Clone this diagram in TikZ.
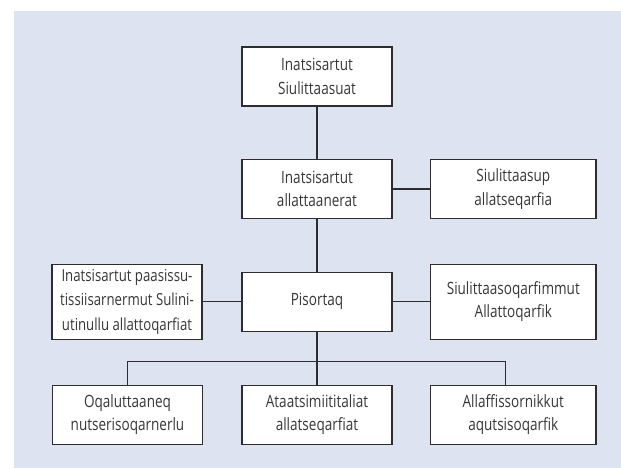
\documentclass[tikz,border=0pt]{standalone}
\usepackage{fontspec}
\setmainfont{Open Sans}[FakeStretch=0.8]
\definecolor{bgc}{RGB}{221,227,240}
\definecolor{txt}{RGB}{55,55,55}
\definecolor{edge}{RGB}{45,45,45}
\begin{document}
\begin{tikzpicture}[x=0.75pt,y=-0.75pt,
  box/.style={draw=edge,line width=0.9pt,fill=white,inner sep=0pt,align=center,
    text=txt,font=\fontsize{12.7pt}{17.6pt}\selectfont,minimum width=112.5pt,minimum height=44.25pt},
  wide/.style={minimum width=124.1pt},
  tall/.style={minimum height=56.25pt},
  conn/.style={draw=edge,line width=0.9pt}]
\useasboundingbox (0,0) rectangle (621,468);
\fill[bgc] (14,11) rectangle (621,468);
\node[box] (top) at (317,76.5) {Inatsisartut\\Siulittaasuat};
\node[box] (mid) at (317,189) {Inatsisartut\\allattaanerat};
\node[box,wide] (sup) at (513.3,189) {Siulittaasup\\allatseqarfia};
\node[box] (pis) at (317,301.8) {Pisortaq};
\node[box,tall,font=\fontsize{12.4pt}{18.5pt}\selectfont] (lft) at (127,301.8) {Inatsisartut paasissu-\\tissiisarnermut Sulini-\\utinullu allattoqarfiat};
\node[box,wide,tall] (rgt) at (513.3,301.8) {Siulittaasoqarfimmut\\Allattoqarfik};
\node[box] (b1) at (127.5,414.8) {Oqaluttaaneq\\nutserisoqarnerlu};
\node[box] (b2) at (317,414.8) {Ataatsimiititaliat\\allatseqarfiat};
\node[box,wide] (b3) at (513.3,414.8) {Allaffissornikkut\\aqutsisoqarfik};
\coordinate (j1) at (127.5,361.5);
\coordinate (j3) at (505.7,361.5);
\coordinate (d3) at (505.7,385.5);
\draw[conn] (top) -- (mid);
\draw[conn] (mid) -- (pis);
\draw[conn] (mid) -- (sup);
\draw[conn] (lft) -- (pis);
\draw[conn] (pis) -- (rgt);
\draw[conn] (pis) -- (b2);
\draw[conn] (b1.north) -- (j1) -- (j3) -- (d3);
\end{tikzpicture}
\end{document}
